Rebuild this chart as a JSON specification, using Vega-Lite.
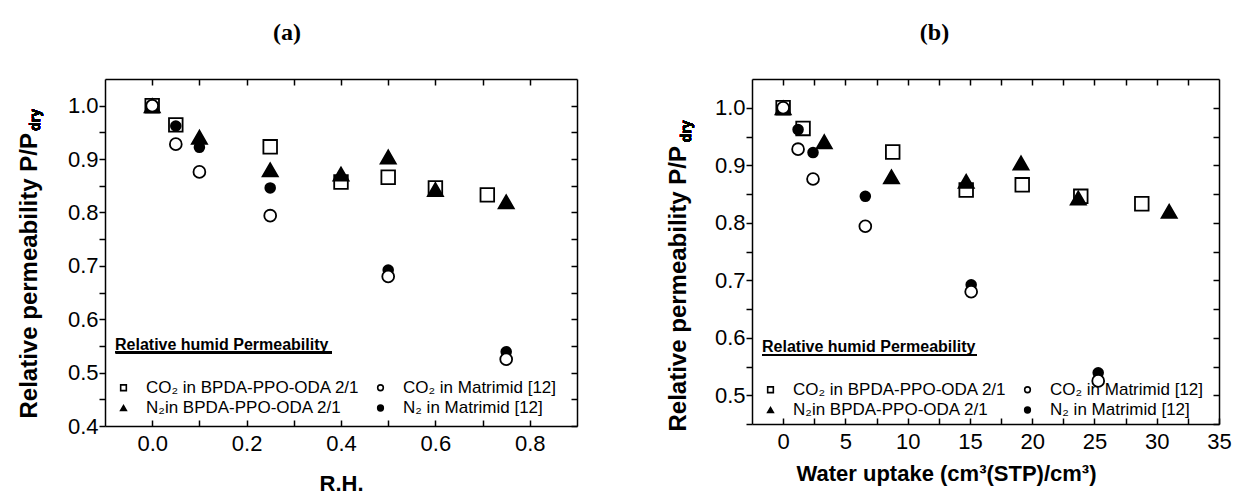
{
  "$schema": "https://vega.github.io/schema/vega-lite/v6.json",
  "background": "white",
  "padding": {"left": 16, "top": 21, "right": 5, "bottom": 0},
  "spacing": 87,
  "resolve": {"scale": {"shape": "independent", "fill": "independent", "size": "independent"}, "legend": {"shape": "independent", "fill": "independent"}},
  "datasets": {
    "pts": [
      {"series": "CO₂ in BPDA-PPO-ODA 2/1", "rh": 0, "uptake": 0, "p": 1.0},
      {"series": "CO₂ in BPDA-PPO-ODA 2/1", "rh": 0.05, "uptake": 1.6, "p": 0.964},
      {"series": "CO₂ in BPDA-PPO-ODA 2/1", "rh": 0.25, "uptake": 8.8, "p": 0.923},
      {"series": "CO₂ in BPDA-PPO-ODA 2/1", "rh": 0.4, "uptake": 14.7, "p": 0.857},
      {"series": "CO₂ in BPDA-PPO-ODA 2/1", "rh": 0.5, "uptake": 19.2, "p": 0.866},
      {"series": "CO₂ in BPDA-PPO-ODA 2/1", "rh": 0.6, "uptake": 23.9, "p": 0.846},
      {"series": "CO₂ in BPDA-PPO-ODA 2/1", "rh": 0.71, "uptake": 28.8, "p": 0.833},
      {"series": "N₂ in Matrimid [12]", "rh": 0, "uptake": 0, "p": 1.0},
      {"series": "N₂ in Matrimid [12]", "rh": 0.05, "uptake": 1.2, "p": 0.962},
      {"series": "N₂ in Matrimid [12]", "rh": 0.1, "uptake": 2.4, "p": 0.922},
      {"series": "N₂ in Matrimid [12]", "rh": 0.25, "uptake": 6.6, "p": 0.846},
      {"series": "N₂ in Matrimid [12]", "rh": 0.5, "uptake": 15.1, "p": 0.692},
      {"series": "N₂ in Matrimid [12]", "rh": 0.75, "uptake": 25.3, "p": 0.539},
      {"series": "N₂in BPDA-PPO-ODA 2/1", "rh": 0, "uptake": 0, "p": 1.0},
      {"series": "N₂in BPDA-PPO-ODA 2/1", "rh": 0.1, "uptake": 3.3, "p": 0.941},
      {"series": "N₂in BPDA-PPO-ODA 2/1", "rh": 0.25, "uptake": 8.7, "p": 0.88},
      {"series": "N₂in BPDA-PPO-ODA 2/1", "rh": 0.4, "uptake": 14.7, "p": 0.872},
      {"series": "N₂in BPDA-PPO-ODA 2/1", "rh": 0.5, "uptake": 19.1, "p": 0.904},
      {"series": "N₂in BPDA-PPO-ODA 2/1", "rh": 0.6, "uptake": 23.7, "p": 0.843},
      {"series": "N₂in BPDA-PPO-ODA 2/1", "rh": 0.75, "uptake": 31.0, "p": 0.82},
      {"series": "CO₂ in Matrimid [12]", "rh": 0, "uptake": 0, "p": 1.0},
      {"series": "CO₂ in Matrimid [12]", "rh": 0.05, "uptake": 1.2, "p": 0.928},
      {"series": "CO₂ in Matrimid [12]", "rh": 0.1, "uptake": 2.4, "p": 0.876},
      {"series": "CO₂ in Matrimid [12]", "rh": 0.25, "uptake": 6.6, "p": 0.794},
      {"series": "CO₂ in Matrimid [12]", "rh": 0.5, "uptake": 15.1, "p": 0.68},
      {"series": "CO₂ in Matrimid [12]", "rh": 0.75, "uptake": 25.3, "p": 0.525}
    ]
  },
  "hconcat": [
    {
      "data": {"name": "pts"},
      "width": 472,
      "height": 347,
      "title": {"text": "(a)", "font": "Liberation Serif", "fontSize": 24, "fontWeight": "bold", "color": "black", "offset": 33, "dx": -54},
      "resolve": {"axis": {"x": "independent", "y": "independent"}},
      "layer": [
        {
          "mark": {"type": "point", "filled": true, "stroke": "black", "strokeWidth": 1.8, "opacity": 1},
          "encoding": {
            "x": {"field": "rh", "type": "quantitative", "scale": {"domain": [-0.1, 0.9], "nice": false, "zero": false},
              "axis": {"orient": "bottom", "title": "R.H.", "values": [0, 0.1, 0.2, 0.3, 0.4, 0.5, 0.6, 0.7, 0.8],
                "labelExpr": "abs(round(datum.value*10)) % 2 == 0 ? format(datum.value, '.1f') : ''",
                "tickSize": -6, "labelPadding": 13, "titlePadding": 19, "labelFlush": false}},
            "y": {"field": "p", "type": "quantitative", "scale": {"domain": [0.4, 1.05], "nice": false, "zero": false},
              "axis": {"orient": "left", "title": "Relative permeability P/P",
                "values": [0.4, 0.45, 0.5, 0.55, 0.6, 0.65, 0.7, 0.75, 0.8, 0.85, 0.9, 0.95, 1.0],
                "labelExpr": "abs(round(datum.value*100)) % 10 == 0 ? format(datum.value, '.1f') : ''",
                "tickSize": 6, "labelPadding": 1, "labelFlush": false, "titleX": -69, "titleY": 339, "titleAlign": "left", "titleBaseline": "alphabetic", "titleAngle": 270, "titleFontSize": 24}},
            "shape": {"field": "series", "type": "nominal",
              "scale": {"domain": ["CO₂ in BPDA-PPO-ODA 2/1", "N₂in BPDA-PPO-ODA 2/1", "CO₂ in Matrimid [12]", "N₂ in Matrimid [12]"], "range": ["square", "triangle-up", "circle", "circle"]},
              "legend": {"orient": "none", "legendX": 10, "legendY": 258, "columns": 2, "title": "Relative humid Permeability",
                "encode": {"symbols": {"update": {"size": {"value": 32}, "stroke": {"value": "black"}, "strokeWidth": {"value": 1.6}}}}}},
            "fill": {"field": "series", "type": "nominal",
              "scale": {"domain": ["CO₂ in BPDA-PPO-ODA 2/1", "N₂in BPDA-PPO-ODA 2/1", "CO₂ in Matrimid [12]", "N₂ in Matrimid [12]"], "range": ["white", "black", "white", "black"]}},
            "size": {"field": "series", "type": "nominal",
              "scale": {"domain": ["N₂in BPDA-PPO-ODA 2/1", "CO₂ in BPDA-PPO-ODA 2/1", "CO₂ in Matrimid [12]", "N₂ in Matrimid [12]"], "range": [230, 95, 90, 90]}, "legend": null}
          }
        },
        {
          "mark": {"type": "point", "opacity": 0},
          "encoding": {
            "x": {"field": "rh", "type": "quantitative",
              "axis": {"orient": "top", "title": null, "labels": false, "values": [0, 0.1, 0.2, 0.3, 0.4, 0.5, 0.6, 0.7, 0.8], "tickSize": -6}},
            "y": {"field": "p", "type": "quantitative",
              "axis": {"orient": "right", "title": null, "labels": false, "values": [0.4, 0.45, 0.5, 0.55, 0.6, 0.65, 0.7, 0.75, 0.8, 0.85, 0.9, 0.95, 1.0], "tickSize": -6}}
          }
        },
        {
          "mark": {"type": "rule", "color": "black", "strokeWidth": 2},
          "encoding": {
            "x": {"datum": -0.077, "type": "quantitative", "axis": null},
            "x2": {"datum": 0.38},
            "y": {"datum": 0.538, "type": "quantitative", "axis": null}
          }
        },
        {
          "mark": {"type": "text", "text": "dry", "angle": 270, "align": "left", "baseline": "alphabetic", "font": "Liberation Sans", "fontSize": 14, "fontWeight": "bold", "color": "black"},
          "encoding": {
            "x": {"datum": -0.238, "type": "quantitative", "axis": null},
            "y": {"datum": 0.953, "type": "quantitative", "axis": null}
          }
        }
      ]
    },
    {
      "data": {"name": "pts"},
      "width": 467,
      "height": 345,
      "title": {"text": "(b)", "font": "Liberation Serif", "fontSize": 24, "fontWeight": "bold", "color": "black", "offset": 33, "dx": -51},
      "resolve": {"axis": {"x": "independent", "y": "independent"}},
      "layer": [
        {
          "mark": {"type": "point", "filled": true, "stroke": "black", "strokeWidth": 1.8, "opacity": 1},
          "encoding": {
            "x": {"field": "uptake", "type": "quantitative", "scale": {"domain": [-2.5, 35], "nice": false, "zero": false},
              "axis": {"orient": "bottom", "title": "Water uptake (cm³(STP)/cm³)", "values": [0, 2.5, 5, 7.5, 10, 12.5, 15, 17.5, 20, 22.5, 25, 27.5, 30, 32.5, 35],
                "labelExpr": "datum.value % 5 == 0 ? format(datum.value, 'd') : ''",
                "tickSize": -6, "labelPadding": 13, "titlePadding": 11, "titleX": 194, "titleAlign": "center", "labelFlush": false}},
            "y": {"field": "p", "type": "quantitative", "scale": {"domain": [0.45, 1.05], "nice": false, "zero": false},
              "axis": {"orient": "left", "title": "Relative permeability P/P",
                "values": [0.45, 0.5, 0.55, 0.6, 0.65, 0.7, 0.75, 0.8, 0.85, 0.9, 0.95, 1.0],
                "labelExpr": "abs(round(datum.value*100)) % 10 == 0 ? format(datum.value, '.1f') : ''",
                "tickSize": 6, "labelPadding": 1, "labelFlush": false, "titleX": -67, "titleY": 352, "titleAlign": "left", "titleBaseline": "alphabetic", "titleAngle": 270, "titleFontSize": 24}},
            "shape": {"field": "series", "type": "nominal",
              "scale": {"domain": ["CO₂ in BPDA-PPO-ODA 2/1", "N₂in BPDA-PPO-ODA 2/1", "CO₂ in Matrimid [12]", "N₂ in Matrimid [12]"], "range": ["square", "triangle-up", "circle", "circle"]},
              "legend": {"orient": "none", "legendX": 10, "legendY": 260, "columns": 2, "title": "Relative humid Permeability",
                "encode": {"symbols": {"update": {"size": {"value": 32}, "stroke": {"value": "black"}, "strokeWidth": {"value": 1.6}}}}}},
            "fill": {"field": "series", "type": "nominal",
              "scale": {"domain": ["CO₂ in BPDA-PPO-ODA 2/1", "N₂in BPDA-PPO-ODA 2/1", "CO₂ in Matrimid [12]", "N₂ in Matrimid [12]"], "range": ["white", "black", "white", "black"]}},
            "size": {"field": "series", "type": "nominal",
              "scale": {"domain": ["N₂in BPDA-PPO-ODA 2/1", "CO₂ in BPDA-PPO-ODA 2/1", "CO₂ in Matrimid [12]", "N₂ in Matrimid [12]"], "range": [230, 95, 90, 90]}, "legend": null}
          }
        },
        {
          "mark": {"type": "point", "opacity": 0},
          "encoding": {
            "x": {"field": "uptake", "type": "quantitative",
              "axis": {"orient": "top", "title": null, "labels": false, "values": [0, 2.5, 5, 7.5, 10, 12.5, 15, 17.5, 20, 22.5, 25, 27.5, 30, 32.5], "tickSize": -6}},
            "y": {"field": "p", "type": "quantitative",
              "axis": {"orient": "right", "title": null, "labels": false, "values": [0.45, 0.5, 0.55, 0.6, 0.65, 0.7, 0.75, 0.8, 0.85, 0.9, 0.95, 1.0], "tickSize": -6}}
          }
        },
        {
          "mark": {"type": "rule", "color": "black", "strokeWidth": 2},
          "encoding": {
            "x": {"datum": -1.69, "type": "quantitative", "axis": null},
            "x2": {"datum": 15.5},
            "y": {"datum": 0.57, "type": "quantitative", "axis": null}
          }
        },
        {
          "mark": {"type": "text", "text": "dry", "angle": 270, "align": "left", "baseline": "alphabetic", "font": "Liberation Sans", "fontSize": 14, "fontWeight": "bold", "color": "black"},
          "encoding": {
            "x": {"datum": -7.4, "type": "quantitative", "axis": null},
            "y": {"datum": 0.94, "type": "quantitative", "axis": null}
          }
        }
      ]
    }
  ],
  "config": {
    "view": {"stroke": null},
    "axis": {"grid": false, "domainColor": "black", "domainWidth": 1.5, "tickColor": "black", "tickWidth": 1.5,
      "labelColor": "black", "titleColor": "black", "labelFont": "Liberation Sans", "titleFont": "Liberation Sans",
      "labelFontSize": 22, "titleFontSize": 22, "titleFontWeight": "bold"},
    "legend": {"titleFont": "Liberation Sans", "titleFontSize": 16, "titleFontWeight": "bold", "titleColor": "black", "titlePadding": 26, "titleLimit": 500,
      "labelFont": "Liberation Sans", "labelFontSize": 17, "labelColor": "black", "labelLimit": 400,
      "symbolSize": 32, "symbolOffset": 0, "symbolStrokeColor": "black", "symbolStrokeWidth": 1.6, "labelOffset": 14, "columnPadding": 12, "rowPadding": 2.5, "padding": 0,
      "symbolFillColor": "white"}
  }
}
